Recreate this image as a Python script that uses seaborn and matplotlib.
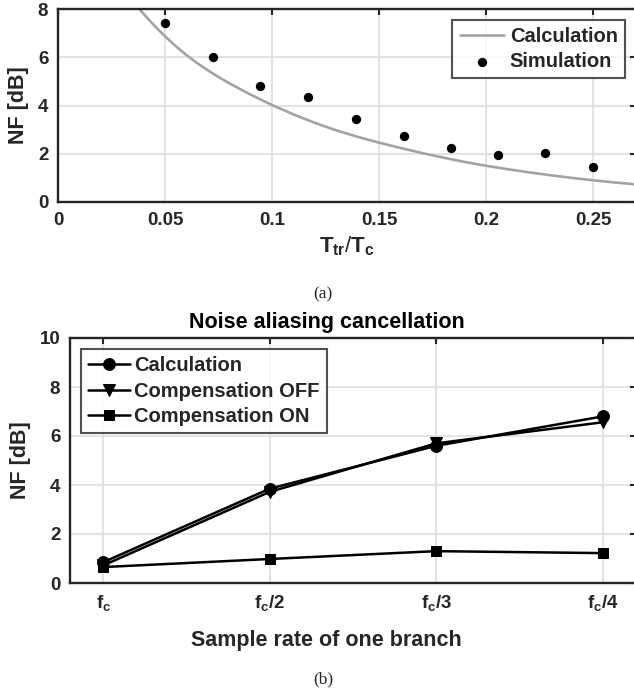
import numpy as np
import pandas as pd
import matplotlib
matplotlib.use("Agg")
import matplotlib.pyplot as plt
import seaborn as sns

# ---- data ----
# (a) NF vs transition time ratio
calc_x = [0.038, 0.042, 0.046, 0.05, 0.055, 0.06, 0.065, 0.07, 0.075, 0.08,
          0.09, 0.10, 0.11, 0.12, 0.13, 0.14, 0.15, 0.16, 0.17, 0.18,
          0.19, 0.20, 0.21, 0.22, 0.23, 0.24, 0.25, 0.26, 0.27]
calc_nf = [8.0, 7.6, 7.22, 6.87, 6.46, 6.09, 5.76, 5.46, 5.18, 4.92,
           4.45, 4.02, 3.63, 3.28, 2.97, 2.70, 2.46, 2.24, 2.03, 1.84,
           1.66, 1.50, 1.36, 1.23, 1.11, 1.00, 0.90, 0.81, 0.73]
sim_x = [0.050, 0.0723, 0.0945, 0.1168, 0.1391, 0.1614, 0.1836, 0.2057, 0.2276, 0.2500]
sim_nf = [7.43, 6.01, 4.80, 4.37, 3.46, 2.74, 2.23, 1.94, 2.02, 1.46]

# (b) noise aliasing cancellation
rate_labels = ["$f_c$", "$f_c$/2", "$f_c$/3", "$f_c$/4"]
nf_calc = [0.85, 3.85, 5.60, 6.80]
nf_comp_off = [0.72, 3.72, 5.70, 6.56]
nf_comp_on = [0.65, 0.98, 1.30, 1.22]

sns.set_style("white")
plt.rcParams["font.family"] = ["Liberation Sans", "DejaVu Sans"]
plt.rcParams["font.weight"] = "bold"
plt.rcParams["mathtext.fontset"] = "custom"
plt.rcParams["mathtext.rm"] = "Liberation Sans:bold"
plt.rcParams["mathtext.it"] = "Liberation Sans:bold"
plt.rcParams["mathtext.bf"] = "Liberation Sans:bold"

dark = "#262626"
grid_c = "#e0e0e0"


def style_axes(ax):
    for s in ax.spines.values():
        s.set_color(dark)
        s.set_linewidth(1.7)
    ax.grid(True, color=grid_c, linewidth=1.3)
    ax.set_axisbelow(True)
    ax.tick_params(direction="in", length=4.5, width=1.5, color=dark,
                   labelcolor=dark, labelsize=13.5, pad=7,
                   top=True, right=True)
    for lab in ax.get_xticklabels() + ax.get_yticklabels():
        lab.set_fontweight("bold")


fig = plt.figure(figsize=(6.34, 6.94), dpi=100)

# ---------------- (a) ----------------
ax1 = fig.add_axes([58 / 634, 1 - 202 / 694, 578 / 634, 193 / 694])
df_calc = pd.DataFrame({"x": calc_x, "nf": calc_nf})
df_sim = pd.DataFrame({"x": sim_x, "nf": sim_nf})
sns.lineplot(data=df_calc, x="x", y="nf", ax=ax1, color="#a3a3a3",
             lw=1.9, label="Calculation")
sns.scatterplot(data=df_sim, x="x", y="nf", ax=ax1, color="black",
                s=45, edgecolor="black", linewidth=0, label="Simulation", zorder=3)
ax1.set_xlim(0, 0.27)
ax1.set_ylim(0, 8)
ax1.set_xticks([0, 0.05, 0.1, 0.15, 0.2, 0.25])
ax1.set_xticklabels(["0", "0.05", "0.1", "0.15", "0.2", "0.25"])
ax1.set_yticks([0, 2, 4, 6, 8])
style_axes(ax1)
ax1.set_xlabel("$T_{tr}$/$T_c$", fontsize=16, color=dark, labelpad=4)
ax1.set_ylabel("NF [dB]", fontsize=15.5, fontweight="bold", color=dark, labelpad=6)
leg1 = ax1.legend(loc="upper right", fontsize=14.5, frameon=True, fancybox=False,
                  handlelength=2.2, labelspacing=0.3, borderaxespad=0.55,
                  handletextpad=0.3, borderpad=0.35)
leg1.get_frame().set_edgecolor(dark)
leg1.get_frame().set_linewidth(1.5)
for t in leg1.get_texts():
    t.set_fontweight("bold")

fig.text(323 / 634, 1 - 294 / 694, "(a)", ha="center", va="center",
         fontsize=12.5, family="Liberation Serif", fontweight="normal")

# ---------------- (b) ----------------
ax2 = fig.add_axes([70 / 634, 1 - 583 / 694, 566 / 634, 245 / 694])
pos = np.arange(len(rate_labels))
df_b = pd.DataFrame({"pos": pos, "calc": nf_calc, "off": nf_comp_off, "on": nf_comp_on})
sns.lineplot(data=df_b, x="pos", y="calc", ax=ax2, color="black", lw=1.8,
             marker="o", markersize=8.5, markeredgecolor="black", label="Calculation")
sns.lineplot(data=df_b, x="pos", y="off", ax=ax2, color="black", lw=1.8,
             marker="v", markersize=9, markeredgecolor="black", label="Compensation OFF")
sns.lineplot(data=df_b, x="pos", y="on", ax=ax2, color="black", lw=1.8,
             marker="s", markersize=7.5, markeredgecolor="black", label="Compensation ON")
ax2.set_xlim(-0.2, 3.2)
ax2.set_ylim(0, 10)
ax2.set_xticks(pos)
ax2.set_xticklabels(rate_labels)
ax2.set_yticks([0, 2, 4, 6, 8, 10])
style_axes(ax2)
ax2.set_xlabel("")
ax2.set_ylabel("NF [dB]", fontsize=15.5, fontweight="bold", color=dark, labelpad=6)
ax2.text(0.453, -0.233, "Sample rate of one branch", transform=ax2.transAxes,
         ha="center", va="center", fontsize=15.5, fontweight="bold", color=dark)
ax2.text(0.453, 1.065, "Noise aliasing cancellation", transform=ax2.transAxes,
         ha="center", va="center", fontsize=15.5, fontweight="bold", color="black")
leg2 = ax2.legend(loc="upper left", fontsize=14.5, frameon=True, fancybox=False,
                  handlelength=2.1, labelspacing=0.33, borderaxespad=0.55,
                  handletextpad=0.2, borderpad=0.35)
leg2.get_frame().set_edgecolor(dark)
leg2.get_frame().set_linewidth(1.5)
for t in leg2.get_texts():
    t.set_fontweight("bold")

fig.text(323 / 634, 1 - 679 / 694, "(b)", ha="center", va="center",
         fontsize=12.5, family="Liberation Serif", fontweight="normal")

fig.savefig("out.png", dpi=100)
